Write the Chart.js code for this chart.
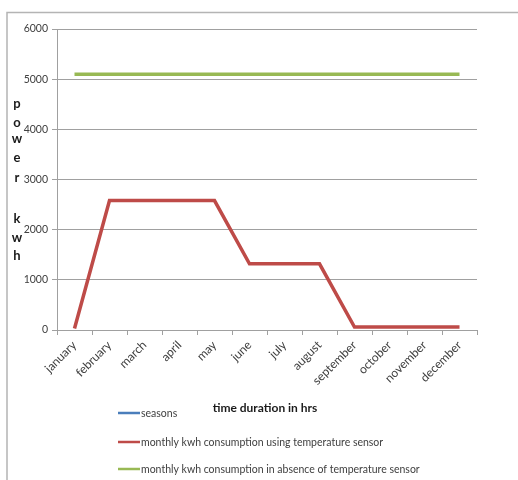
<!DOCTYPE html>
<html>
<head>
<meta charset="utf-8">
<script src="https://cdn.jsdelivr.net/npm/chart.js@4"></script>
<style>
  html, body { margin: 0; padding: 0; background: #ffffff; }
  #wrap { width: 518px; height: 480px; position: relative; }
</style>
</head>
<body>
<div id="wrap"><canvas id="c" width="518" height="480"></canvas></div>
<script>
// Month categories along the x axis
const months = ['january', 'february', 'march', 'april', 'may', 'june',
  'july', 'august', 'september', 'october', 'november', 'december'];

// Series values (kWh per month)
const seasons = [null, null, null, null, null, null, null, null, null, null, null, null];
const withSensor = [30, 2580, 2580, 2580, 2580, 1320, 1320, 1320, 60, 60, 60, 60];
const withoutSensor = [5100, 5100, 5100, 5100, 5100, 5100, 5100, 5100, 5100, 5100, 5100, 5100];

// Axis settings and titles
const yTicks = [0, 1000, 2000, 3000, 4000, 5000, 6000];
const yTitleLetters = ['p', 'o', 'w', 'e', 'r', 'k', 'w', 'h'];
const xTitle = 'time duration in hrs';
const seriesNames = ['seasons', 'monthly kwh consumption using temperature sensor',
  'monthly kwh consumption in absence of temperature sensor'];

const FONT = 'Lato, "Open Sans", sans-serif';
const TEXT = '#404040';
const GRID = '#a0a0a0';

// Outer frame, vertical axis title, x axis title and legend
const decor = {
  id: 'decor',
  beforeDraw(chart) {
    const ctx = chart.ctx;
    ctx.save();
    ctx.fillStyle = '#ffffff';
    ctx.fillRect(0, 0, chart.width, chart.height);
    ctx.strokeStyle = '#b4b4b4';
    ctx.lineWidth = 1.5;
    ctx.beginPath();
    ctx.moveTo(7, chart.height);
    ctx.lineTo(7, 12.5);
    ctx.lineTo(chart.width, 12.5);
    ctx.stroke();
    ctx.restore();
  },
  afterDraw(chart) {
    const ctx = chart.ctx;
    ctx.save();
    // stacked letters of the value axis title
    const letterY = [104, 123, 139, 158, 178, 219, 238, 256];
    ctx.fillStyle = '#1a1a1a';
    ctx.font = 'bold 13px ' + FONT;
    ctx.textAlign = 'center';
    ctx.textBaseline = 'middle';
    yTitleLetters.forEach((ch, i) => ctx.fillText(ch, 17, letterY[i]));

    // category axis title
    ctx.font = 'bold 12px ' + FONT;
    ctx.fillText(xTitle, 265, 408);

    // legend, one entry per row
    const rowY = [413, 442, 469];
    ctx.font = '10.5px ' + FONT;
    ctx.textAlign = 'left';
    chart.data.datasets.forEach((ds, i) => {
      ctx.strokeStyle = ds.borderColor;
      ctx.lineWidth = 2.5;
      ctx.beginPath();
      ctx.moveTo(118, rowY[i]);
      ctx.lineTo(140, rowY[i]);
      ctx.stroke();
      ctx.fillStyle = TEXT;
      ctx.fillText(ds.label, 141, rowY[i] + 0.5);
    });
    ctx.restore();
  }
};

new Chart(document.getElementById('c'), {
  type: 'line',
  data: {
    labels: months,
    datasets: [
      { label: seriesNames[0], data: seasons, borderColor: '#4a7ebb', backgroundColor: '#4a7ebb', borderWidth: 3, pointRadius: 0 },
      { label: seriesNames[1], data: withSensor, borderColor: '#be4b48', backgroundColor: '#be4b48', borderWidth: 3.5, pointRadius: 0 },
      { label: seriesNames[2], data: withoutSensor, borderColor: '#98b954', backgroundColor: '#98b954', borderWidth: 3.5, pointRadius: 0 }
    ]
  },
  options: {
    responsive: false,
    animation: false,
    layout: { padding: { top: 29, right: 41, bottom: 0, left: 0 } },
    plugins: { legend: { display: false }, tooltip: { enabled: false } },
    elements: { line: { tension: 0 } },
    scales: {
      x: {
        offset: true,
        grid: { offset: true, drawOnChartArea: false, drawTicks: true, tickLength: 5, color: GRID },
        border: { color: GRID, width: 1 },
        ticks: { color: TEXT, font: { family: FONT, size: 12 }, minRotation: 45, maxRotation: 45, padding: 3 },
        afterFit(scale) { scale.height = 150; }
      },
      y: {
        min: 0, max: 6000,
        afterBuildTicks(scale) { scale.ticks = yTicks.map(v => ({ value: v })); },
        grid: { color: GRID, tickLength: 5, drawTicks: true },
        border: { color: GRID, width: 1 },
        ticks: { color: TEXT, font: { family: FONT, size: 10.5 }, padding: 4, callback: v => String(v) },
        afterFit(scale) { scale.width = 57; }
      }
    }
  },
  plugins: [decor]
});
</script>
</body>
</html>
